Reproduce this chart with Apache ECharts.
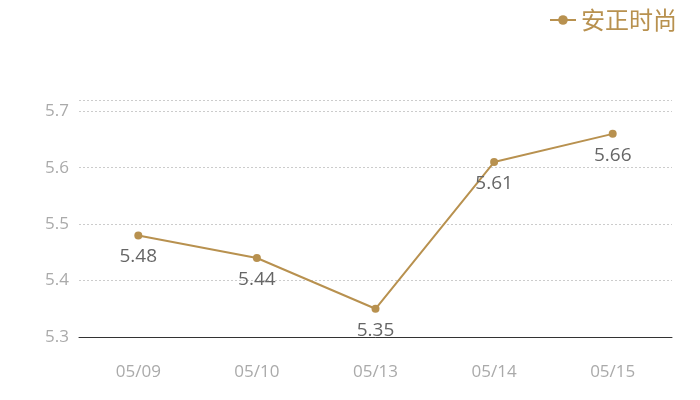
<!DOCTYPE html>
<html><head><meta charset="utf-8">
<script src="https://cdn.jsdelivr.net/npm/echarts@6/dist/echarts.min.js"></script>
<style>html,body{margin:0;padding:0;background:#fff}#c{width:700px;height:400px}</style>
</head><body><div id="c"></div>
<script>
const categories = ['05/09', '05/10', '05/13', '05/14', '05/15'];
const seriesName = '安正时尚';
const values = [5.48, 5.44, 5.35, 5.61, 5.66];
const yTicks = [5.3, 5.4, 5.5, 5.6, 5.7];

const chart = echarts.init(document.getElementById('c'));
chart.setOption({
  animation: false,
  legend: {
    right: 18, top: 3, itemGap: 6,
    itemWidth: 26, itemHeight: 12,
    textStyle: { color: '#b8914f', fontSize: 24, fontFamily: 'Noto Sans CJK SC' },
    data: [seriesName]
  },
  grid: { left: 79, right: 28, top: 100, bottom: 63 },
  xAxis: {
    type: 'category', data: categories, boundaryGap: true,
    axisLine: { lineStyle: { color: '#333' } },
    axisTick: { show: false },
    axisLabel: { color: '#aaa', fontSize: 17, margin: 27, fontFamily: 'Open Sans' }
  },
  yAxis: {
    type: 'value', min: yTicks[0], max: 5.72, interval: 0.1,
    axisLine: { show: false }, axisTick: { show: false },
    axisLabel: { color: '#aaa', fontSize: 17, margin: 10, fontFamily: 'Open Sans',
      formatter: v => yTicks.some(t => Math.abs(t - v) < 1e-9) ? v.toFixed(1) : '' },
    splitLine: { lineStyle: { color: '#ccc', type: [2, 2] } }
  },
  series: [{
    name: seriesName, type: 'line', data: values,
    symbol: 'circle', symbolSize: 8,
    itemStyle: { color: '#b8914f' },
    lineStyle: { color: '#b8914f', width: 2 },
    label: { show: true, position: 'bottom', distance: 8, color: '#666', fontSize: 19, fontFamily: 'Open Sans' }
  }]
});
</script></body></html>
